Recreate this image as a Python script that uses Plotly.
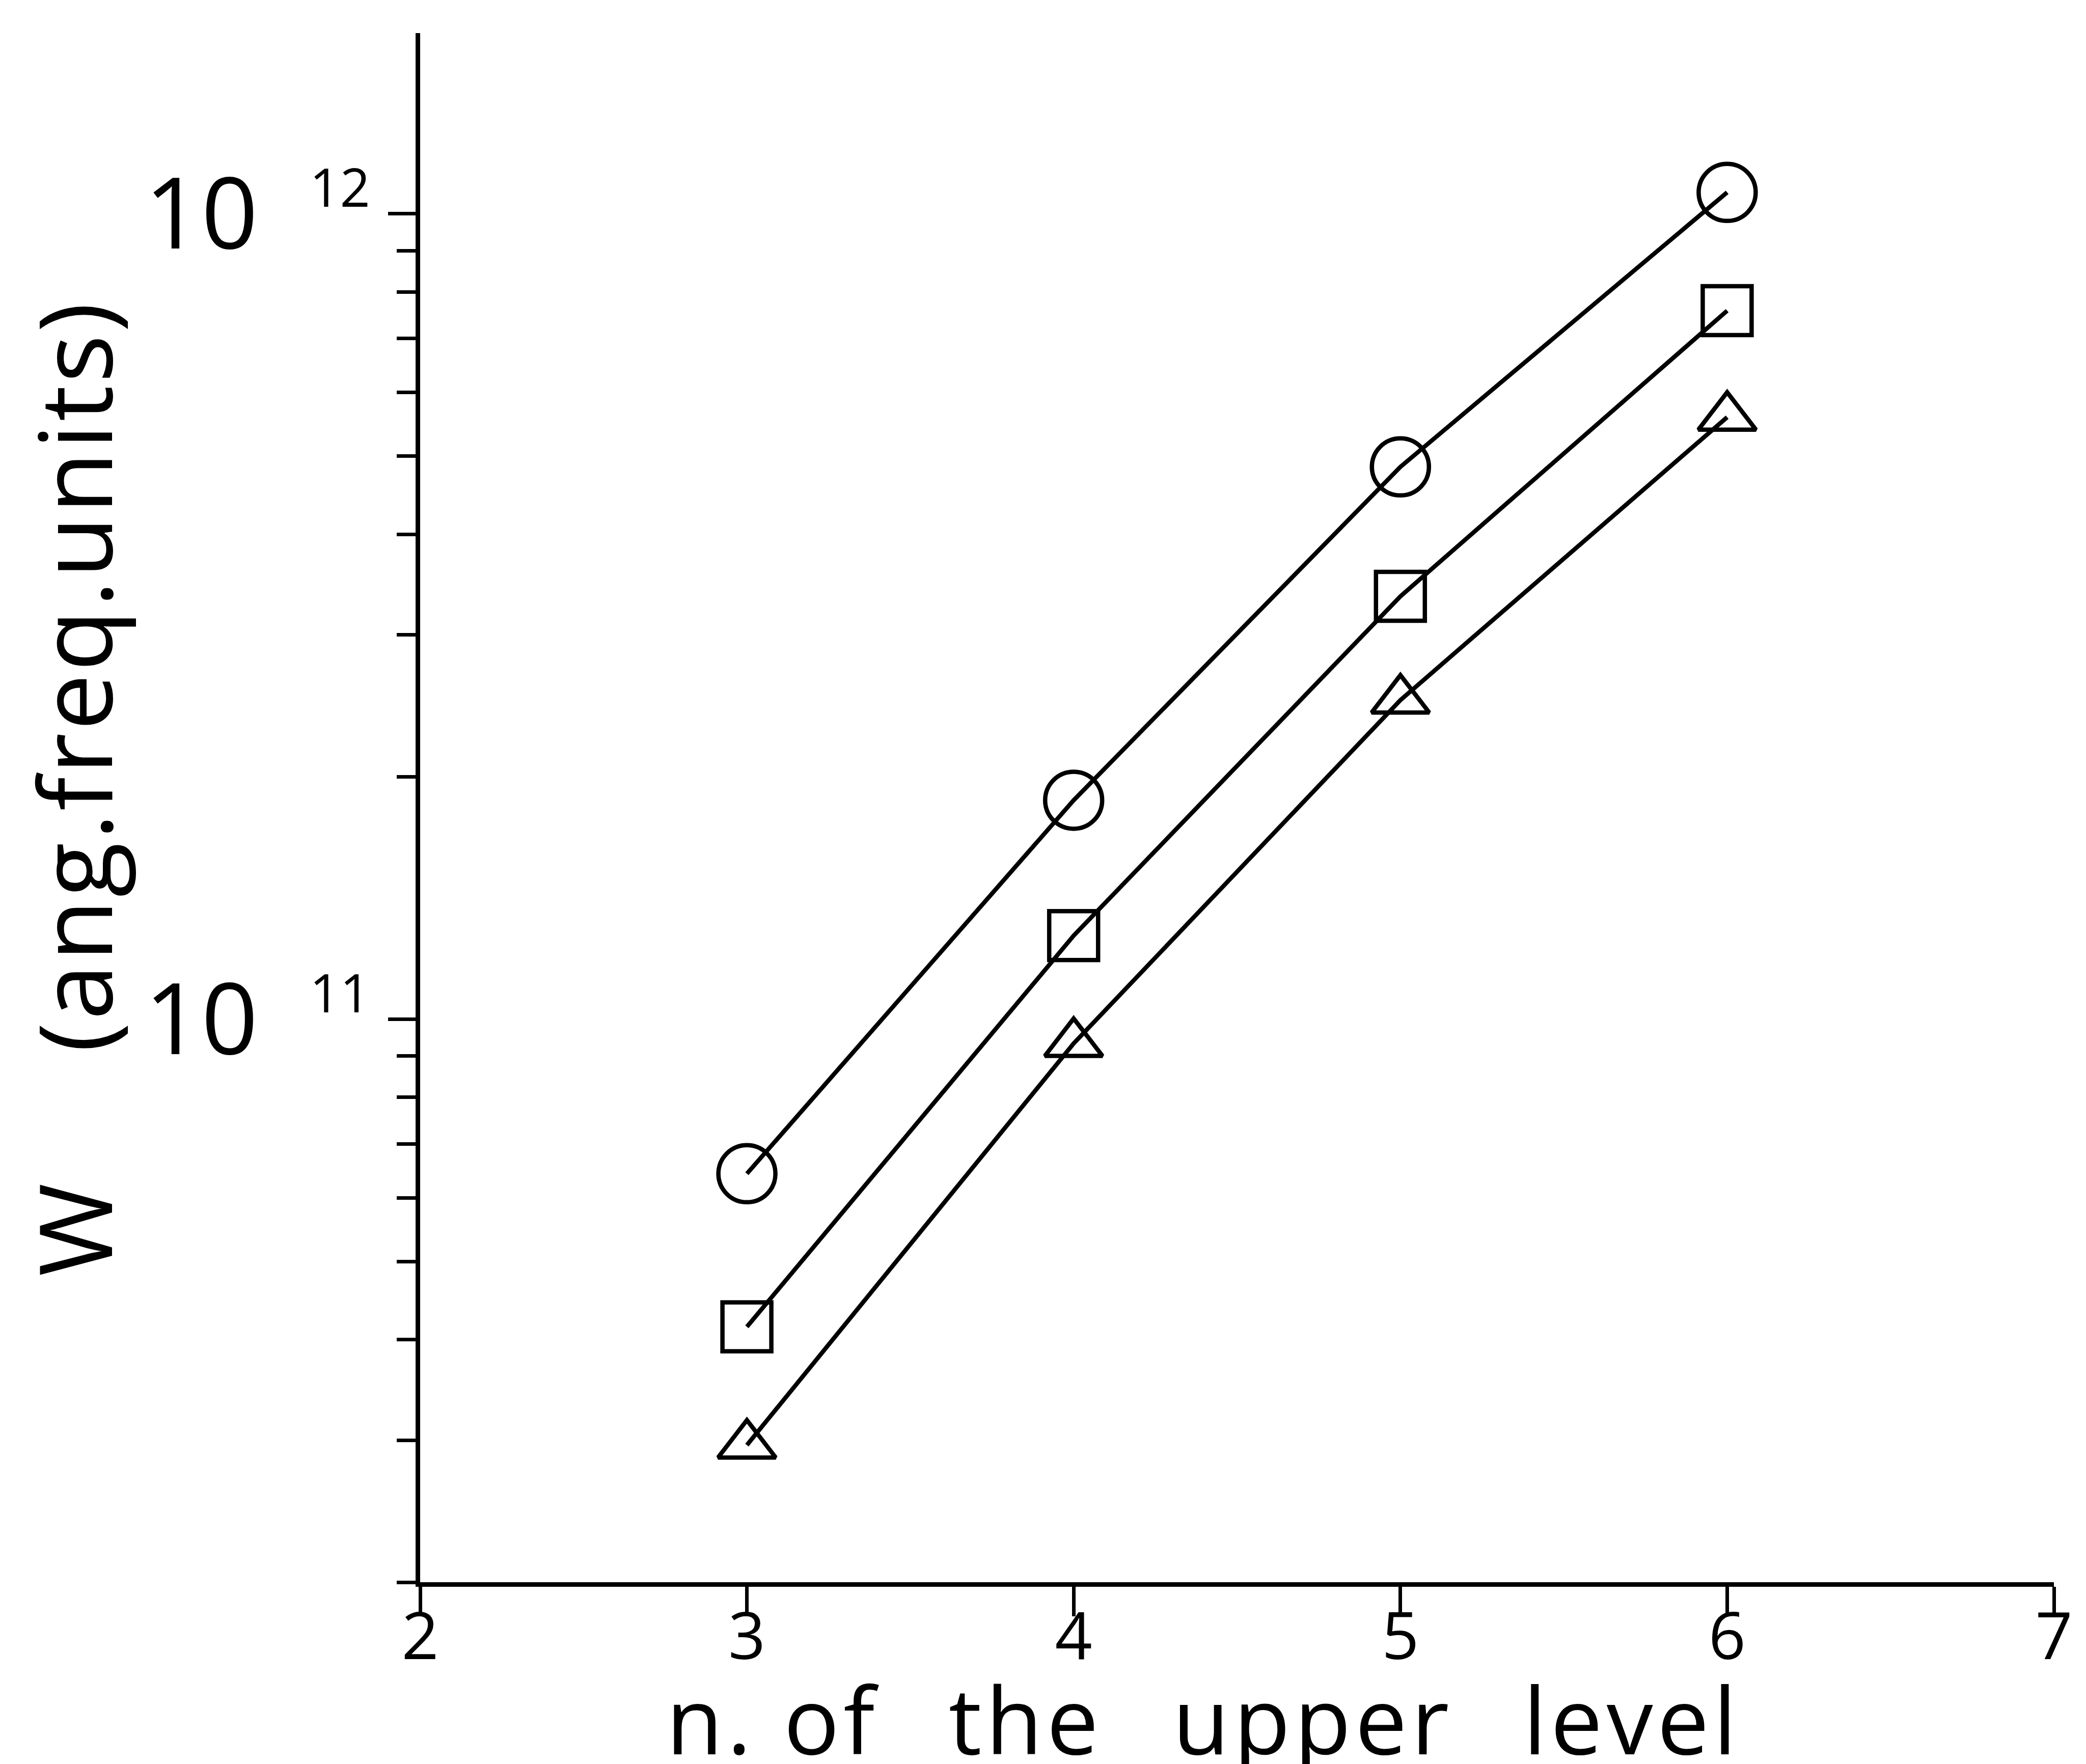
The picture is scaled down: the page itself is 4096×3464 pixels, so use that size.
import numpy as np
import plotly.graph_objects as go

# ---------------- data ----------------
n_upper = [3, 4, 5, 6]
w_circle = [6.43e10, 1.87e11, 4.85e11, 1.063e12]
w_square = [4.15e10, 1.27e11, 3.35e11, 7.58e11]
w_triangle = [2.96e10, 9.33e10, 2.49e11, 5.59e11]

x_tickvals = [2, 3, 4, 5, 6, 7]
x_ticktext = ["2", "3", "4", "5", "6", "7"]
y_major_vals = [1e11, 1e12]
y_major_exp = ["11", "12"]
y_minor_vals = [m * 10 ** e for e in (10, 11) for m in range(2, 10)]

x_title_words = ["n.", "of", "the", "upper", "level"]
x_title_gaps = ["\u00a0", "\u2002\u2009", "\u2002\u2009", "\u2002\u2009"]
y_title_main = "W"
y_title_units = "(ang.freq.units)"

# ---------------- geometry (output px) ----------------
W, H = 4096, 3464
ML, MR, MT, MB = 817, 71, 57, 365
PW = W - ML - MR
PH = H - MT - MB
FONT = "Open Sans"

y_ticktext = ["10\u00a0\u00a0<sup><span style='font-size:104px'>%s</span></sup>" % e
              for e in y_major_exp]

x_title = x_title_words[0]
for g, w_ in zip(x_title_gaps, x_title_words[1:]):
    x_title += g + w_
x_title = "<span style='letter-spacing:8px'>%s</span>" % x_title
y_title = (y_title_main + "\u00a0" * 5 +
           "<span style='letter-spacing:5px'>%s</span>" % y_title_units)

fig = go.Figure()
series = [
    (w_circle, "circle-open", 112),
    (w_square, "square-open", 96),
    (w_triangle, "triangle-up-open", 98),
]
for vals, sym, size in series:
    fig.add_trace(go.Scatter(
        x=n_upper, y=vals, mode="lines+markers",
        line=dict(color="black", width=8.5),
        marker=dict(symbol=sym, size=size, color="black",
                    line=dict(width=8.5, color="black")),
        showlegend=False, hoverinfo="skip",
    ))

fig.update_layout(
    width=W, height=H, autosize=False,
    margin=dict(l=ML, r=MR, t=MT, b=MB, pad=0),
    paper_bgcolor="white", plot_bgcolor="white",
    font=dict(family=FONT, color="black"),
    showlegend=False,
)
fig.update_xaxes(
    range=[2, 7], tickmode="array", tickvals=x_tickvals, ticktext=x_ticktext,
    ticks="outside", ticklen=58, tickwidth=7, tickcolor="black",
    ticklabelstandoff=-70,
    showline=True, linewidth=9, linecolor="black",
    showgrid=False, zeroline=False,
    tickfont=dict(family=FONT, size=128, color="black"),
)
fig.update_yaxes(
    type="log", range=[np.log10(2e10), 12.2243],
    tickmode="array", tickvals=y_major_vals, ticktext=y_ticktext,
    ticks="outside", ticklen=54, tickwidth=7, tickcolor="black",
    ticklabelstandoff=-4,
    minor=dict(tickmode="array", tickvals=y_minor_vals, ticks="outside",
               ticklen=37, tickwidth=7, tickcolor="black", showgrid=False),
    showline=True, linewidth=9, linecolor="black",
    showgrid=False, zeroline=False,
    tickfont=dict(family=FONT, size=195, color="black"),
)

def px_to_paper_x(px):
    return (px - ML) / PW

def px_to_paper_y(py):
    return (H - MB - py) / PH

fig.add_annotation(
    text=x_title, showarrow=False,
    xref="paper", yref="paper",
    x=px_to_paper_x(1298), y=px_to_paper_y(3240),
    xanchor="left", yanchor="top",
    font=dict(family=FONT, size=182, color="black"),
)
fig.add_annotation(
    text=y_title, showarrow=False, textangle=-90,
    xref="paper", yref="paper",
    x=px_to_paper_x(134), y=px_to_paper_y(2501),
    xanchor="center", yanchor="bottom",
    font=dict(family=FONT, size=198, color="black"),
)

fig.write_html("out.html")
